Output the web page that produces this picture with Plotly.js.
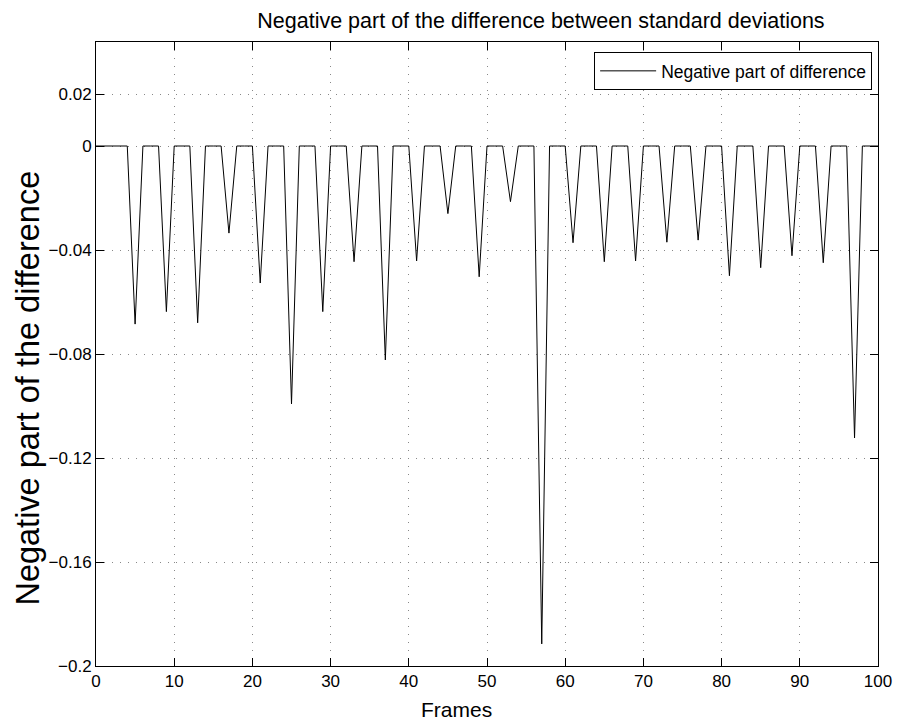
<!DOCTYPE html>
<html>
<head>
<meta charset="utf-8">
<script src="https://cdn.plot.ly/plotly-3.0.1.min.js"></script>
<style>html,body{margin:0;padding:0;background:#fff;}#chart{width:908px;height:722px;}</style>
</head>
<body>
<div id="chart"></div>
<script>
const frames = [0,1,2,3,4,5,6,7,8,9,10,11,12,13,14,15,16,17,18,19,20,21,22,23,24,25,26,27,28,29,30,31,32,33,34,35,36,37,38,39,40,41,42,43,44,45,46,47,48,49,50,51,52,53,54,55,56,57,58,59,60,61,62,63,64,65,66,67,68,69,70,71,72,73,74,75,76,77,78,79,80,81,82,83,84,85,86,87,88,89,90,91,92,93,94,95,96,97,98,99,100];
const negDiff = [
  0,0,0,0,0,-0.0685,0,0,0,-0.0637,
  0,0,0,-0.068,0,0,0,-0.0335,0,0,
  0,-0.0527,0,0,0,-0.0992,0,0,0,-0.0637,
  0,0,0,-0.0445,0,0,0,-0.0823,0,0,
  0,-0.0442,0,0,0,-0.026,0,0,0,-0.0503,
  0,0,0,-0.0214,0,0,0,-0.1915,0,0,
  0,-0.0372,0,0,0,-0.0445,0,0,0,-0.0442,
  0,0,0,-0.037,0,0,0,-0.0362,0,0,
  0,-0.0499,0,0,0,-0.0468,0,0,0,-0.0422,
  0,0,0,-0.0449,0,0,0,-0.1123,0,0,
  0
];
const xTicks = [0,10,20,30,40,50,60,70,80,90,100];
const yTicks = [-0.2,-0.16,-0.12,-0.08,-0.04,0,0.02];
const yTickText = ['\u22120.2','\u22120.16','\u22120.12','\u22120.08','\u22120.04','0','0.02'];
const titleText = 'Negative part of the difference between standard deviations';
const xLabel = 'Frames';
const yLabel = 'Negative part of the difference';

const font = 'Liberation Sans, Arial, Helvetica, sans-serif';
const trace = {
  x: frames, y: negDiff, type: 'scatter', mode: 'lines',
  name: 'Negative part of difference',
  line: {color: '#000', width: 1}
};
const axisCommon = {
  showline: true, linecolor: '#000', linewidth: 1, mirror: 'allticks',
  ticks: 'inside', ticklen: 8, tickcolor: '#000', tickwidth: 1,
  showgrid: true, gridcolor: '#888', griddash: '1px,7px', gridwidth: 1,
  zeroline: false, tickfont: {family: font, size: 17, color: '#000'}
};
const layout = {
  width: 908, height: 722,
  margin: {l: 96, r: 30, t: 42, b: 56},
  paper_bgcolor: '#fff', plot_bgcolor: '#fff',
  title: {text: titleText,
          font: {family: font, size: 21.5, color: '#000'}, x: 0.569, xanchor: 'center', xref: 'paper', y: 0.972, yanchor: 'middle'},
  xaxis: Object.assign({}, axisCommon, {
    range: [0, 100], tickvals: xTicks, ticktext: xTicks.map(String)
  }),
  yaxis: Object.assign({}, axisCommon, {
    range: [-0.2, 0.04], tickvals: yTicks, ticktext: yTickText
  }),
  annotations: [
    {text: xLabel, xref: 'paper', yref: 'paper', x: 0.4616, y: -0.0705,
     xanchor: 'center', yanchor: 'middle', showarrow: false,
     font: {family: font, size: 21, color: '#000'}},
    {text: yLabel, xref: 'paper', yref: 'paper', x: -0.0875, y: 0.4455,
     xanchor: 'center', yanchor: 'middle', showarrow: false, textangle: -90,
     font: {family: font, size: 32.5, color: '#000'}}
  ],
  showlegend: true,
  legend: {x: 0.9925, y: 0.984, xanchor: 'right', yanchor: 'top',
           bgcolor: '#fff', bordercolor: '#000', borderwidth: 1, itemwidth: 56,
           tracegroupgap: 0,
           font: {family: font, size: 17.5, color: '#000'}}
};
Plotly.newPlot('chart', [trace], layout, {displayModeBar: false, staticPlot: true});
</script>
</body>
</html>
